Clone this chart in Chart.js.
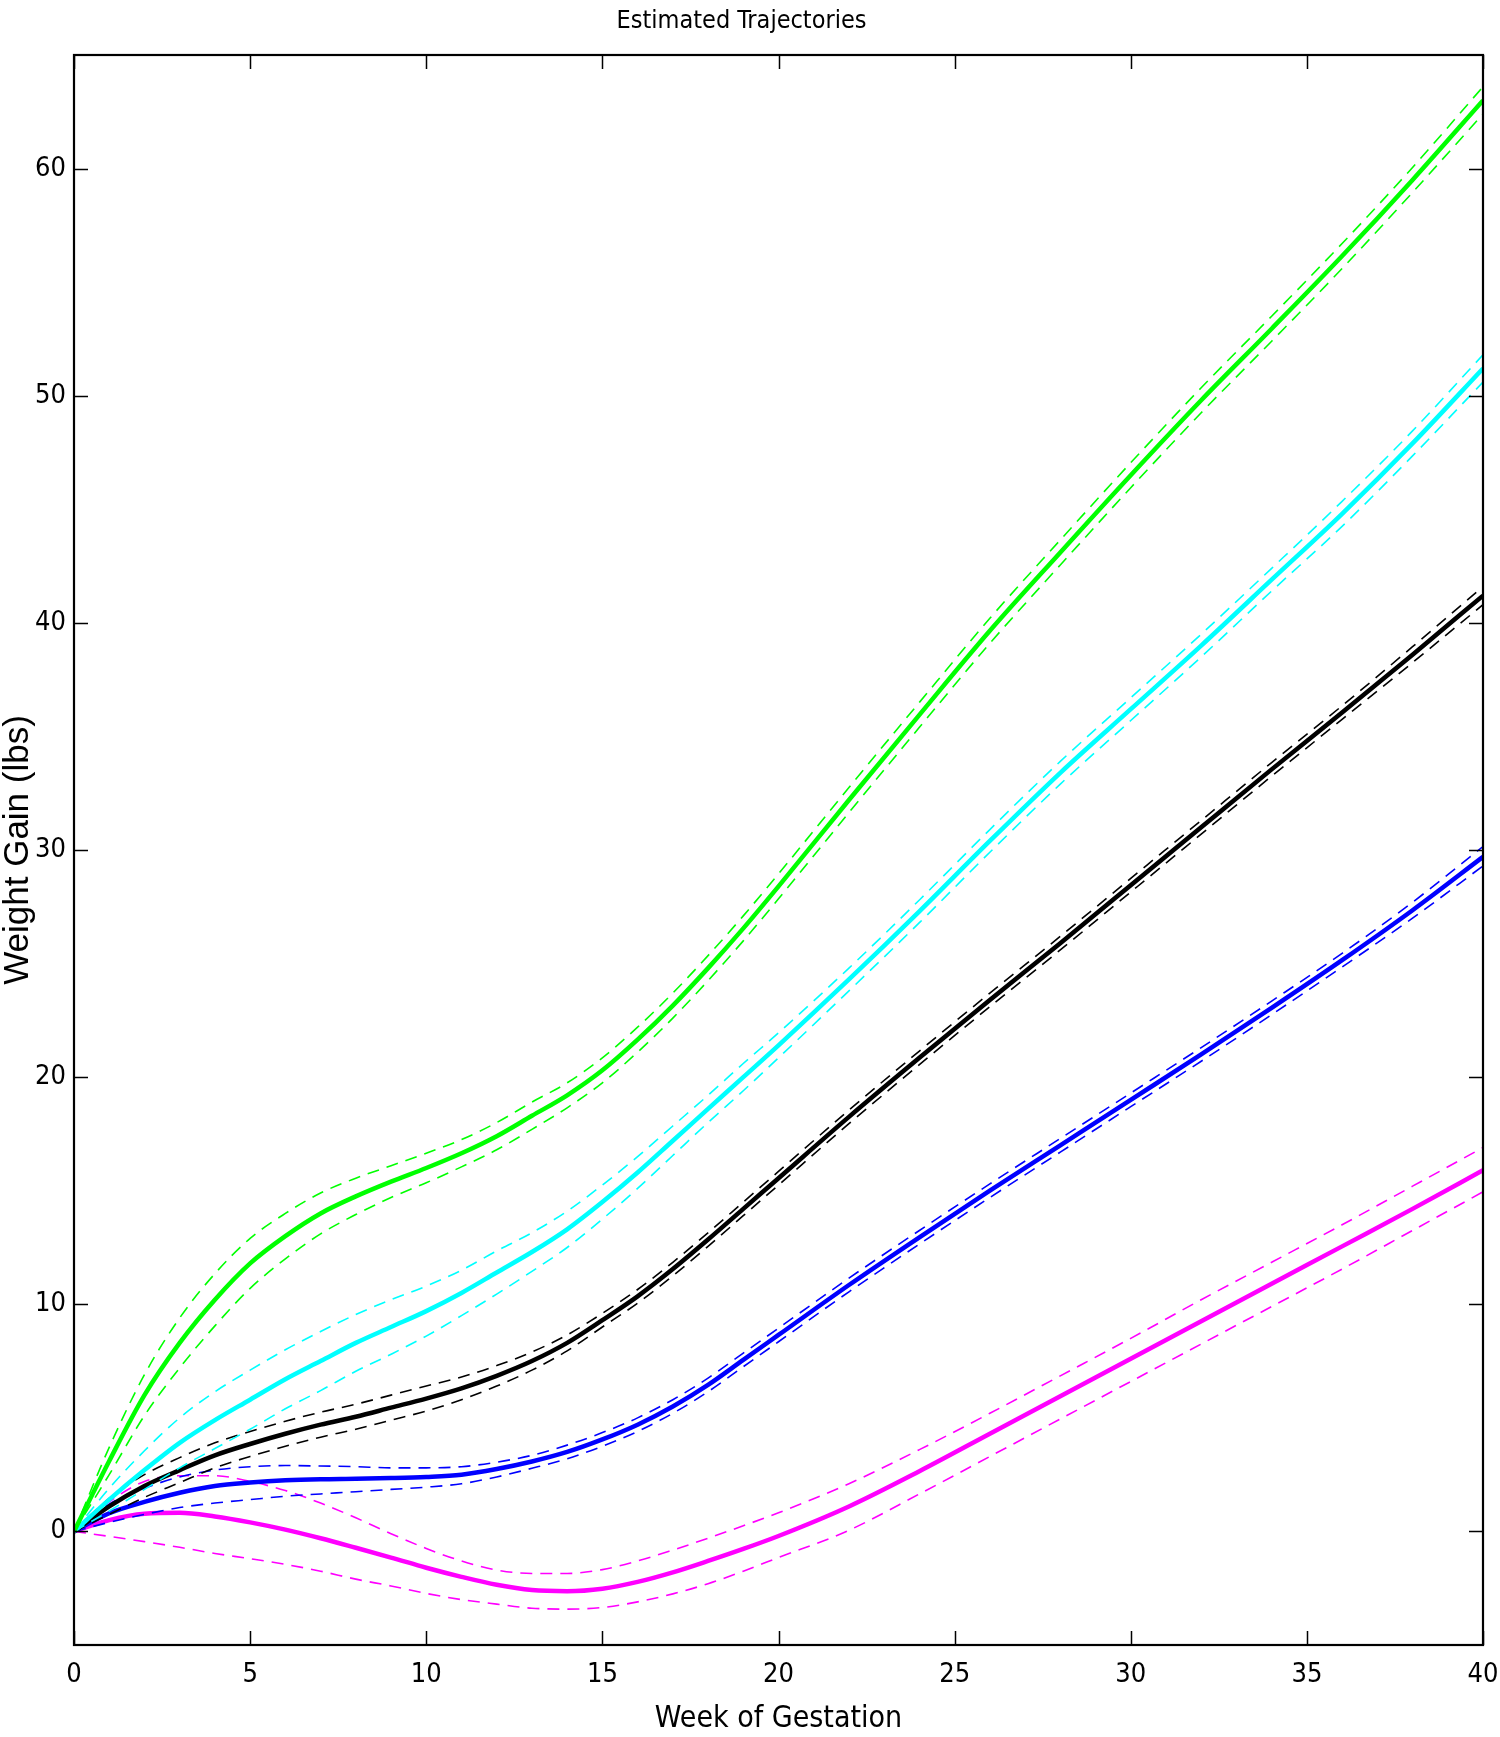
<!DOCTYPE html>
<html>
<head>
<meta charset="utf-8">
<script src="https://cdn.jsdelivr.net/npm/chart.js@4.4.1/dist/chart.umd.min.js"></script>
<style>
  html, body { margin: 0; padding: 0; background: #ffffff; overflow: hidden; }
  #c { display: block; }
</style>
</head>
<body>
<canvas id="c" width="1500" height="1737" style="width:1500px;height:1737px"></canvas>
<script>
// ---- data ----
const weeks = [0,1,2,3,4,5,6,7,8,9,10,11,12,13,14,15,16,17,18,19,20,22,24,26,28,30,32,34,36,38,40];
const xTickValues = [0,5,10,15,20,25,30,35,40];
const yTickValues = [0,10,20,30,40,50,60];

const greenMean  = [0,3.1,6.0,8.3,10.2,11.8,13.0,14.0,14.75,15.4,16.0,16.65,17.4,18.3,19.2,20.3,21.65,23.15,24.8,26.55,28.4,32.2,35.95,39.65,43.1,46.5,49.8,52.95,56.15,59.5,63.0];
const greenUpper = [0,3.7,6.9,9.4,11.35,12.9,14.0,14.9,15.55,16.1,16.65,17.25,18.0,18.9,19.75,20.85,22.2,23.7,25.35,27.1,28.95,32.75,36.5,40.2,43.65,47.05,50.35,53.5,56.7,60.05,63.6];
const greenLower = [0,2.5,5.1,7.2,9.05,10.7,12.0,13.1,13.95,14.7,15.35,16.05,16.8,17.7,18.65,19.75,21.1,22.6,24.25,26.0,27.85,31.65,35.4,39.1,42.55,45.95,49.25,52.4,55.6,58.95,62.4];

const cyanMean  = [0,1.4,2.7,3.9,4.9,5.8,6.7,7.5,8.3,9.0,9.7,10.5,11.4,12.3,13.3,14.5,15.8,17.2,18.6,20.0,21.4,24.3,27.3,30.4,33.4,36.2,39.0,41.9,44.8,47.9,51.2];
const cyanUpper = [0,1.9,3.55,5.0,6.15,7.1,8.0,8.8,9.55,10.2,10.8,11.5,12.35,13.15,14.1,15.25,16.5,17.85,19.2,20.6,21.95,24.8,27.8,30.9,33.9,36.7,39.5,42.4,45.35,48.45,51.8];
const cyanLower = [0,0.9,1.85,2.8,3.65,4.5,5.4,6.2,7.05,7.8,8.6,9.5,10.45,11.45,12.5,13.75,15.1,16.55,18.0,19.4,20.85,23.8,26.8,29.9,32.9,35.7,38.5,41.4,44.25,47.35,50.6];

const blackMean  = [0,1.1,2.0,2.7,3.35,3.85,4.3,4.7,5.05,5.45,5.85,6.3,6.85,7.5,8.3,9.3,10.35,11.55,12.85,14.2,15.55,18.25,20.85,23.4,25.9,28.45,31.0,33.55,36.05,38.6,41.2];
const blackUpper = [0,1.45,2.5,3.25,3.9,4.4,4.85,5.25,5.6,6.0,6.4,6.8,7.3,7.9,8.65,9.6,10.65,11.85,13.15,14.5,15.85,18.55,21.15,23.7,26.2,28.75,31.3,33.85,36.35,38.95,41.6];
const blackLower = [0,0.75,1.5,2.15,2.8,3.3,3.75,4.15,4.5,4.9,5.3,5.8,6.4,7.1,7.95,9.0,10.05,11.25,12.55,13.9,15.25,17.95,20.55,23.1,25.6,28.15,30.7,33.25,35.75,38.25,40.8];

const blueMean  = [0,0.8,1.3,1.7,2.0,2.15,2.25,2.3,2.32,2.35,2.4,2.5,2.75,3.08,3.5,4.05,4.7,5.5,6.45,7.55,8.65,10.85,12.95,15.0,17.0,19.0,21.0,23.05,25.15,27.35,29.7];
const blueUpper = [0,1.2,1.9,2.4,2.7,2.85,2.9,2.88,2.85,2.8,2.8,2.85,3.05,3.35,3.8,4.35,5.0,5.8,6.75,7.85,8.95,11.15,13.25,15.3,17.3,19.3,21.3,23.35,25.45,27.7,30.15];
const blueLower = [0,0.4,0.75,1.05,1.25,1.4,1.55,1.65,1.75,1.85,1.95,2.1,2.4,2.78,3.2,3.75,4.4,5.2,6.15,7.25,8.35,10.55,12.65,14.7,16.7,18.7,20.7,22.75,24.85,27.0,29.3];

const magentaMean  = [0,0.5,0.78,0.82,0.66,0.4,0.08,-0.3,-0.72,-1.15,-1.6,-2.0,-2.35,-2.58,-2.63,-2.52,-2.22,-1.8,-1.3,-0.77,-0.2,1.1,2.65,4.3,5.95,7.6,9.25,10.9,12.55,14.2,15.9];
const magentaUpper = [0,1.3,2.2,2.45,2.45,2.2,1.8,1.25,0.6,-0.1,-0.75,-1.3,-1.7,-1.85,-1.85,-1.68,-1.3,-0.82,-0.3,0.25,0.82,2.1,3.6,5.2,6.85,8.5,10.2,11.85,13.5,15.2,16.9];
const magentaLower = [0,-0.22,-0.45,-0.7,-0.97,-1.2,-1.45,-1.75,-2.1,-2.4,-2.73,-3.0,-3.2,-3.38,-3.42,-3.35,-3.1,-2.75,-2.3,-1.75,-1.15,0.05,1.65,3.3,4.95,6.6,8.25,9.9,11.55,13.25,14.95];

// ---- build datasets ----
const NARROW = "'Liberation Sans Narrow', 'DejaVu Sans Condensed', 'Liberation Sans', sans-serif";
function pts(arr) { return weeks.map((w, i) => ({ x: w, y: arr[i] })); }
function solid(label, arr, color) {
  return { label, data: pts(arr), borderColor: color, borderWidth: 4.5, pointRadius: 0,
           cubicInterpolationMode: 'monotone', fill: false };
}
function dashed(label, arr, color) {
  return { label, data: pts(arr), borderColor: color, borderWidth: 1.6, borderDash: [12, 8],
           pointRadius: 0, cubicInterpolationMode: 'monotone', fill: false };
}
const groups = [
  ['green', '#00ff00', greenMean, greenUpper, greenLower],
  ['cyan', '#00ffff', cyanMean, cyanUpper, cyanLower],
  ['black', '#000000', blackMean, blackUpper, blackLower],
  ['blue', '#0000ff', blueMean, blueUpper, blueLower],
  ['magenta', '#ff00ff', magentaMean, magentaUpper, magentaLower]
];
const datasets = [];
groups.forEach(g => {
  datasets.push(solid(g[0] + ' estimate', g[2], g[1]));
  datasets.push(dashed(g[0] + ' upper', g[3], g[1]));
  datasets.push(dashed(g[0] + ' lower', g[4], g[1]));
});

// frame with inward ticks on all four sides
const framePlugin = {
  id: 'frame',
  afterDatasetsDraw(chart) {
    const { ctx, chartArea: a, scales: { x, y } } = chart;
    ctx.save();
    ctx.strokeStyle = '#000';
    ctx.lineWidth = 1.5;
    ctx.beginPath();
    x.ticks.forEach(t => {
      const px = Math.round(x.getPixelForValue(t.value)) + 0.5;
      ctx.moveTo(px, a.bottom); ctx.lineTo(px, a.bottom - 14);
      ctx.moveTo(px, a.top); ctx.lineTo(px, a.top + 14);
    });
    y.ticks.forEach(t => {
      const py = Math.round(y.getPixelForValue(t.value)) + 0.5;
      ctx.moveTo(a.left, py); ctx.lineTo(a.left + 14, py);
      ctx.moveTo(a.right, py); ctx.lineTo(a.right - 14, py);
    });
    ctx.stroke();
    ctx.lineWidth = 2.2;
    ctx.strokeRect(a.left, a.top, a.right - a.left, a.bottom - a.top);
    ctx.restore();
  }
};

new Chart(document.getElementById('c'), {
  type: 'line',
  data: { datasets },
  plugins: [framePlugin],
  options: {
    responsive: false,
    animation: false,
    layout: { padding: { left: 0, right: 17, top: 0, bottom: 0 } },
    plugins: {
      legend: { display: false },
      tooltip: { enabled: false },
      title: {
        display: true,
        text: 'Estimated Trajectories',
        color: '#000',
        font: { family: NARROW, size: 25, weight: 'normal', lineHeight: 1.2 },
        padding: { top: 6, bottom: 19 }
      }
    },
    scales: {
      x: {
        type: 'linear', min: 0, max: 40,
        afterBuildTicks: s => { s.ticks = xTickValues.map(v => ({ value: v })); },
        afterFit: s => { s.height = 92; s.paddingLeft = 0; s.paddingRight = 17; },
        grid: { display: false, drawTicks: false },
        border: { display: false },
        ticks: { color: '#000', font: { family: NARROW, size: 27 }, padding: 14, maxRotation: 0, autoSkip: false },
        title: { display: true, text: 'Week of Gestation', color: '#000',
                 font: { family: NARROW, size: 30, lineHeight: 1.0 }, padding: { top: 0, bottom: 3 } }
      },
      y: {
        type: 'linear', min: -5, max: 65,
        afterBuildTicks: s => { s.ticks = yTickValues.map(v => ({ value: v })); },
        afterFit: s => { s.width = 74; },
        grid: { display: false, drawTicks: false },
        border: { display: false },
        ticks: { color: '#000', font: { family: NARROW, size: 27 }, padding: 8 },
        title: { display: true, text: 'Weight Gain (lbs)', color: '#000',
                 font: { family: "'Liberation Sans', Arial, sans-serif", size: 35, lineHeight: 1.0 }, padding: { top: 1, bottom: 0 } }
      }
    }
  }
});
</script>
</body>
</html>
